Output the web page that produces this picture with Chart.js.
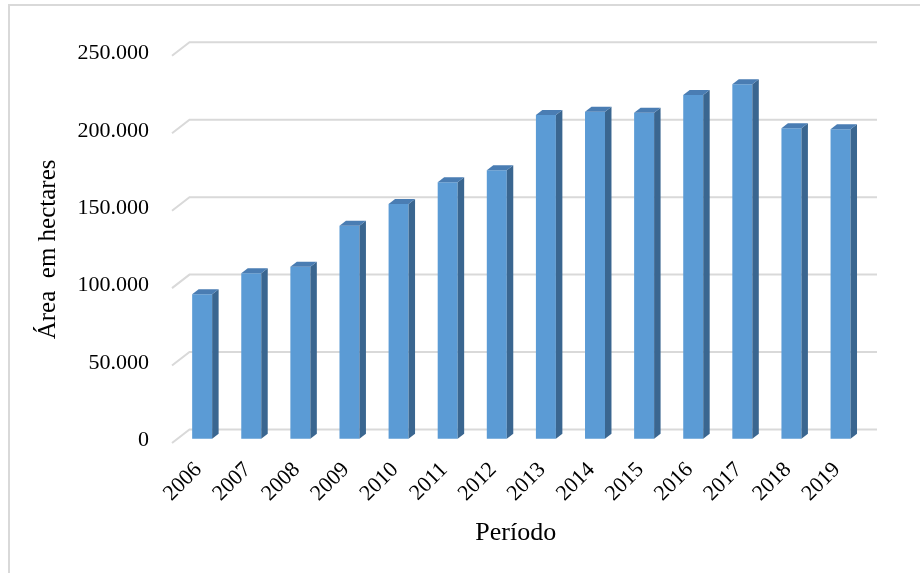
<!DOCTYPE html>
<html lang="pt-BR">
<head>
<meta charset="utf-8">
<title>Área em hectares por período</title>
<script src="https://cdn.jsdelivr.net/npm/chart.js@4"></script>
<style>
  html, body { margin: 0; padding: 0; background: #ffffff; }
  #wrap { width: 920px; height: 573px; }
</style>
</head>
<body>
<div id="wrap"><canvas id="chart" width="920" height="573"></canvas></div>
<script>
// Área anual (hectares), 2006–2019
const years = ['2006', '2007', '2008', '2009', '2010', '2011', '2012',
               '2013', '2014', '2015', '2016', '2017', '2018', '2019'];
const areaHa = [93200, 106800, 111000, 137500, 151500, 165500, 173300,
                209000, 211100, 210500, 221900, 228800, 200400, 199800];
const yTicks = [0, 50000, 100000, 150000, 200000, 250000];

// Pseudo-3D geometry (pixels): full depth of the floor, bar plane position, bar thickness
const DEPTH = { dx: 17.5, dy: -13.5 };
const BAR_PLANE = 0.32;   // fraction of depth where bar front faces sit
const BAR_DEPTH = 0.37;   // fraction of depth taken by each bar

const COLORS = {
  front: '#5b9bd5',
  side: '#3a6690',
  top: '#4a7db3',
  grid: '#d9d9d9',
  frame: '#d9d9d9',
  text: '#000000'
};

const fmt = v => String(v).replace(/\B(?=(\d{3})+(?!\d))/g, '.');

const depthPlugin = {
  id: 'depth3d',
  beforeDraw(chart) {
    const ctx = chart.ctx;
    ctx.save();
    ctx.strokeStyle = COLORS.frame;
    ctx.lineWidth = 2;
    ctx.beginPath();
    ctx.moveTo(9, 573);
    ctx.lineTo(9, 5);
    ctx.lineTo(920, 5);
    ctx.stroke();
    ctx.restore();
  },
  beforeDatasetsDraw(chart) {
    const { ctx, chartArea, scales } = chart;
    const y = scales.y;
    // gridlines: short diagonal on the side wall, then along the back wall
    ctx.save();
    ctx.strokeStyle = COLORS.grid;
    ctx.lineWidth = 2;
    yTicks.forEach(v => {
      const py = y.getPixelForValue(v);
      ctx.beginPath();
      ctx.moveTo(chartArea.left, py);
      ctx.lineTo(chartArea.left + DEPTH.dx, py + DEPTH.dy);
      ctx.lineTo(chartArea.right + DEPTH.dx, py + DEPTH.dy);
      ctx.stroke();
    });
    ctx.restore();
    // bars sit part way into the depth
    ctx.save();
    ctx.translate(DEPTH.dx * BAR_PLANE, DEPTH.dy * BAR_PLANE);
  },
  afterDatasetsDraw(chart) {
    const ctx = chart.ctx;
    const ox = DEPTH.dx * BAR_DEPTH, oy = DEPTH.dy * BAR_DEPTH;
    chart.getDatasetMeta(0).data.forEach(bar => {
      const { x, y, base, width } = bar.getProps(['x', 'y', 'base', 'width'], true);
      const l = x - width / 2, r = x + width / 2;
      // right side face
      ctx.fillStyle = COLORS.side;
      ctx.beginPath();
      ctx.moveTo(r, y);
      ctx.lineTo(r + ox, y + oy);
      ctx.lineTo(r + ox, base + oy);
      ctx.lineTo(r, base);
      ctx.closePath();
      ctx.fill();
      // top face
      ctx.fillStyle = COLORS.top;
      ctx.beginPath();
      ctx.moveTo(l, y);
      ctx.lineTo(l + ox, y + oy);
      ctx.lineTo(r + ox, y + oy);
      ctx.lineTo(r, y);
      ctx.closePath();
      ctx.fill();
    });
    ctx.restore();
  }
};

new Chart(document.getElementById('chart'), {
  type: 'bar',
  data: {
    labels: years,
    datasets: [{
      label: 'Área em hectares',
      data: areaHa,
      backgroundColor: COLORS.front,
      borderWidth: 0,
      barPercentage: 0.407,
      categoryPercentage: 1.0,
      clip: false
    }]
  },
  options: {
    responsive: false,
    animation: false,
    devicePixelRatio: 1,
    layout: { padding: { top: 55.8, left: 33.4, right: 60.5, bottom: 24.4 } },
    plugins: {
      legend: { display: false },
      title: { display: false },
      tooltip: { enabled: false }
    },
    scales: {
      x: {
        grid: { display: false, drawTicks: false },
        border: { display: false },
        ticks: {
          autoSkip: false,
          minRotation: 45,
          maxRotation: 45,
          padding: 14,
          labelOffset: 2,
          color: COLORS.text,
          font: { family: '"Liberation Serif", "Times New Roman", serif', size: 22 }
        },
        title: {
          display: true,
          text: 'Período',
          color: COLORS.text,
          padding: 0,
          font: { family: '"Liberation Serif", "Times New Roman", serif', size: 26 }
        },
        afterFit(scale) { scale.height = 105.6; }
      },
      y: {
        min: 0,
        max: 250000,
        grid: { display: false, drawTicks: false },
        border: { display: false },
        afterBuildTicks(scale) { scale.ticks = yTicks.map(v => ({ value: v })); },
        ticks: {
          padding: 23,
          labelOffset: -2.5,
          color: COLORS.text,
          font: { family: '"Liberation Serif", "Times New Roman", serif', size: 22 },
          callback: v => fmt(v)
        },
        title: {
          display: true,
          text: 'Área  em hectares',
          color: COLORS.text,
          padding: 0,
          font: { family: '"Liberation Serif", "Times New Roman", serif', size: 25 }
        },
        afterFit(scale) { scale.width = 138.6; }
      }
    }
  },
  plugins: [depthPlugin]
});
</script>
</body>
</html>
